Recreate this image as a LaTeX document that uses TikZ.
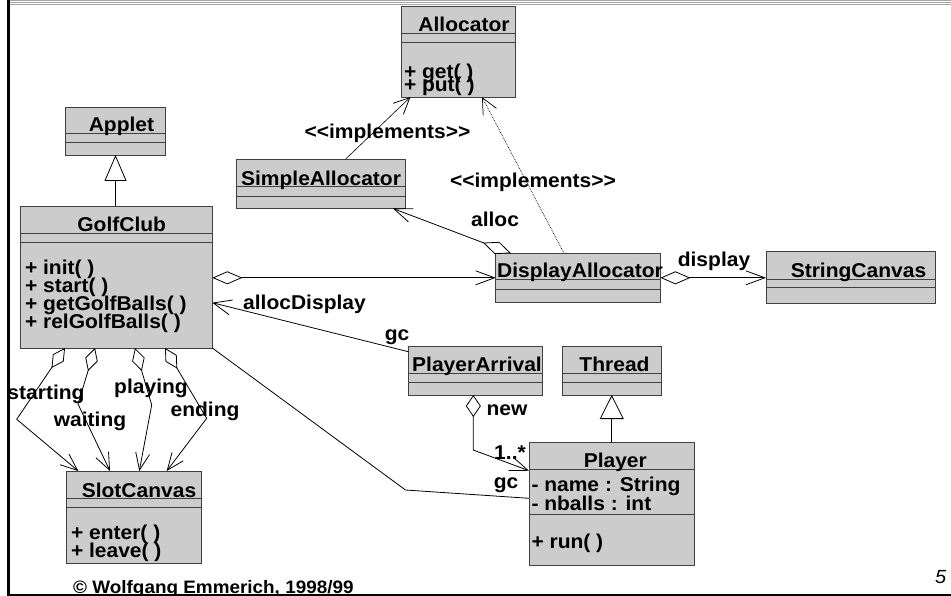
\documentclass[tikz,border=0pt]{standalone}
\usepackage{fontspec}
\newfontfamily\umlfont{Liberation Sans}[FakeStretch=1.05]
\usetikzlibrary{arrows.meta,calc}

\tikzset{
  classbox/.style={rectangle, draw=black!75, fill=black!20, line width=0.9pt,
    inner sep=0pt, outer sep=0pt, anchor=north west},
  seprule/.style={draw=black!75, line width=0.9pt},
  txt/.style={font=\umlfont\bfseries\fontsize{20}{18}\selectfont, inner sep=0pt, outer sep=0pt},
  title/.style={txt, anchor=base},
  member/.style={txt, anchor=base west},
  lbl/.style={txt, anchor=center},
  conn/.style={draw=black, line width=0.8pt},
  thinconn/.style={draw=black, line width=0.6pt},
  dotconn/.style={draw=black, line width=0.7pt, densely dotted},
  hbarb/.style={-{Straight Barb[length=19pt,width=14pt,line width=0.8pt]}},
  vbarb/.style={-{Straight Barb[length=16pt,width=15pt,line width=0.8pt]}},
}

% #1 id, #2 x1, #3 y1, #4 x2, #5 y2, #6 sep1, #7 sep2, #8 title x, #9 title
\newcommand\umlclass[9]{%
  \node[classbox, minimum width={#4pt-#2pt}, minimum height={#5pt-#3pt}] (#1) at (#2,#3) {};
  \draw[seprule] (#2,#6) -- (#4,#6);
  \draw[seprule] (#2,#7) -- (#4,#7);
  \node[title] (#1-name) at (#8,#6-1.5) {#9};
}

\begin{document}
\begin{tikzpicture}[x=1pt,y=-1pt]
\useasboundingbox (0,0) rectangle (951,596);
\fill[white] (0,0) rectangle (951,596);

% ---------- classes ----------
\umlclass{Allocator}{401.5}{6}{515.5}{97}{33}{42}{464}{Allocator}
\umlclass{Applet}{65.5}{107}{165.5}{155}{133.3}{142.7}{121.5}{Applet}
\umlclass{SimpleAllocator}{236.5}{159}{405}{208.5}{186.7}{196}{321}{SimpleAllocator}
\umlclass{GolfClub}{20.7}{206}{212.3}{348}{233.3}{242.3}{121.7}{GolfClub}
\umlclass{DisplayAllocator}{495.8}{253.3}{660.4}{302.3}{279.3}{289}{580}{DisplayAllocator}
\umlclass{StringCanvas}{766}{251.7}{935}{303.3}{279}{287.7}{858.5}{StringCanvas}
\umlclass{PlayerArrival}{408.4}{346.7}{542.3}{395}{373.3}{382.3}{477}{PlayerArrival}
\umlclass{Thread}{562}{346.7}{661.5}{395}{373}{382.3}{614.5}{Thread}
\umlclass{Player}{529}{442.7}{694.3}{565}{469.3}{514.3}{615.3}{Player}
\umlclass{SlotCanvas}{66.7}{471}{201}{563.3}{498.7}{507.7}{139}{SlotCanvas}

% ---------- members ----------
\node[member] (aget) at (404,78.5) {+ get( )};
\node[member] (aput) at (404,92) {+ put( )};
\node[member] (ginit) at (25,275) {+ init( )};
\node[member] (gstart) at (25,293) {+ start( )};
\node[member] (gget) at (25,310.5) {+ getGolfBalls( )};
\node[member] (grel) at (25,328) {+ relGolfBalls( )};
\node[member] (senter) at (71,539) {+ enter( )};
\node[member] (sleave) at (71,557.5) {+ leave( )};
\node[member] (pname) at (531.5,491.7) {- name : String};
\node[member] (pballs) at (531.5,510) {- nballs : int};
\node[member] (prun) at (531.5,548.3) {+ run( )};

% ---------- generalizations ----------
\draw[conn, -{Triangle[fill=white,length=26pt,width=22pt,line width=0.8pt]}]
  (Applet.south |- GolfClub.north) -- (Applet.south);
\draw[conn, -{Triangle[fill=white,length=24pt,width=24pt,line width=0.8pt]}]
  (Thread.south |- Player.north) -- (Thread.south);

% ---------- realizations ----------
\draw[thinconn, vbarb] ([xshift=109.2pt]SimpleAllocator.north west) -- ([xshift=9pt]Allocator.south west);
\draw[dotconn, -{Straight Barb[length=16pt,width=15pt,line width=0.7pt,sep=0pt]}]
  ([xshift=68.2pt]DisplayAllocator.north west) -- ([xshift=80.5pt]Allocator.south west);

% ---------- associations ----------
\draw[conn, {Diamond[fill=white,length=30pt,width=13pt,line width=0.8pt]}-{Straight Barb[length=18pt,width=14pt,line width=0.8pt]}]
  ([xshift=15.2pt]DisplayAllocator.north west) -- ([xshift=156.5pt]SimpleAllocator.south west);
\draw[conn, {Diamond[fill=white,length=30pt,width=13pt,line width=0.8pt]}-{Straight Barb[length=19pt,width=14pt,line width=0.8pt]}]
  (GolfClub.east |- DisplayAllocator.west) -- (DisplayAllocator.west);
\draw[conn, {Diamond[fill=white,length=30pt,width=13pt,line width=0.8pt]}-{Straight Barb[length=19pt,width=14pt,line width=0.8pt]}]
  (DisplayAllocator.east) -- (StringCanvas.west |- DisplayAllocator.east);
\draw[conn, -{Straight Barb[length=18pt,width=15pt,line width=0.8pt]}]
  ([yshift=-5pt]PlayerArrival.north west) -- ([yshift=-96.7pt]GolfClub.north east);

\coordinate (gcbend) at (405.5,490);
\draw[conn] (GolfClub.south east) -- (gcbend) -- ([yshift=-55.6pt]Player.north west);

\coordinate (newbend) at (473.3,450);
\draw[conn, {Diamond[fill=white,length=22pt,width=15pt,line width=0.8pt]}-{Straight Barb[length=18pt,width=14pt,line width=0.8pt]}]
  ([xshift=-2pt]PlayerArrival.south) -- (newbend) -- ([yshift=-28pt]Player.north west);

% GolfClub -> SlotCanvas aggregations
\coordinate (sbend1) at (16.7,419.3);
\coordinate (sbend2) at (78,404);
\coordinate (sbend3) at (151.7,405);
\coordinate (sbend4) at (206.7,418.3);
\draw[conn, {Diamond[fill=white,length=24pt,width=13pt,line width=0.8pt]}-{Straight Barb[length=17pt,width=14pt,line width=0.8pt]}]
  ([xshift=44.3pt]GolfClub.south west) -- (sbend1) -- ([xshift=11.6pt]SlotCanvas.north west);
\draw[conn, {Diamond[fill=white,length=24pt,width=13pt,line width=0.8pt]}-{Straight Barb[length=17pt,width=14pt,line width=0.8pt]}]
  ([xshift=74.3pt]GolfClub.south west) -- (sbend2) -- ([xshift=43.3pt]SlotCanvas.north west);
\draw[conn, {Diamond[fill=white,length=24pt,width=13pt,line width=0.8pt]}-{Straight Barb[length=17pt,width=14pt,line width=0.8pt]}]
  ([xshift=114.3pt]GolfClub.south west) -- (sbend3) -- ([xshift=72.6pt]SlotCanvas.north west);
\draw[conn, {Diamond[fill=white,length=24pt,width=13pt,line width=0.8pt]}-{Straight Barb[length=17pt,width=14pt,line width=0.8pt]}]
  ([xshift=144.3pt]GolfClub.south west) -- (sbend4) -- ([xshift=100pt]SlotCanvas.north west);

% ---------- labels ----------
\node[lbl] (lImplA) at (387.5,133) {<<implements>>};
\node[lbl] (lImplB) at (533,182) {<<implements>>};
\node[lbl] (lAlloc) at (495,219) {alloc};
\node[lbl] (lDisplay) at (714,261) {display};
\node[lbl] (lAllocDisplay) at (304.5,304) {allocDisplay};
\node[lbl] (lgcA) at (397,337) {gc};
\node[lbl] (lgcB) at (506,485) {gc};
\node[lbl] (lNew) at (507,410) {new};
\node[lbl] (lMult) at (510,453) {1..*};
\node[lbl] (lStarting) at (46,394) {starting};
\node[lbl] (lWaiting) at (90,421) {waiting};
\node[lbl] (lPlaying) at (151,388) {playing};
\node[lbl] (lEnding) at (205,411) {ending};

% ---------- footer ----------
\node[anchor=base west, inner sep=0pt, font=\umlfont\bfseries\fontsize{18}{18}\selectfont]
  (copyright) at (73,593.5) {© Wolfgang Emmerich, 1998/99};
\node[anchor=base west, inner sep=0pt, font=\umlfont\itshape\fontsize{19}{19}\selectfont]
  (pagenum) at (935,583.5) {5};

% ---------- frame ----------
\foreach \yy in {0.6,2.6,4.6}
  \draw[black!35, line width=1pt] (8,\yy) -- (951,\yy);
\draw[black, line width=2.4pt] (8.3,0) -- (8.3,596);
\draw[black, line width=1.8pt] (7,595.1) -- (951,595.1);
\end{tikzpicture}
\end{document}
